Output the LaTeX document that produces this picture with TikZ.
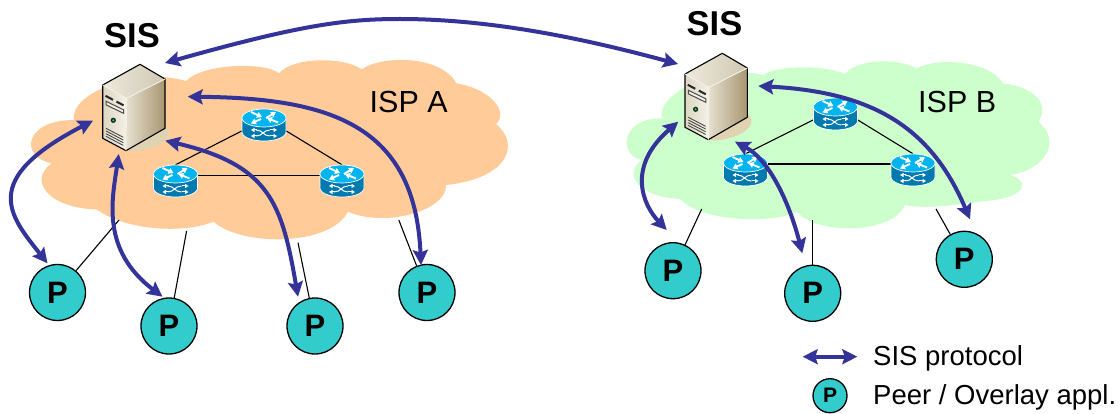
\documentclass[tikz,border=0pt]{standalone}
\usepackage{fontspec}
\setmainfont{Liberation Sans}
\usetikzlibrary{arrows.meta}
\definecolor{cloudA}{HTML}{FFCC99}
\definecolor{cloudB}{HTML}{CCFFCC}
\definecolor{peerfill}{HTML}{33CCCC}
\definecolor{sisblue}{HTML}{333399}
\definecolor{rtop}{HTML}{00B4F0}
\definecolor{rbody}{HTML}{0079AE}
\definecolor{srvshadow}{HTML}{E0D3B2}
\definecolor{srvlight}{HTML}{F4F1E8}
\definecolor{srvfront}{HTML}{DDD6C2}
\definecolor{srvmid}{HTML}{E6E0D0}
\definecolor{srvdark}{HTML}{A89670}
\definecolor{srvtopa}{HTML}{EDE9DC}
\definecolor{srvtopb}{HTML}{CFC8B2}
\tikzset{
  x=1pt,y=-1pt,
  peer/.style={circle,draw=black,line width=1.3pt,fill=peerfill,minimum size=56pt,inner sep=0pt,font=\fontsize{31}{31}\selectfont\bfseries},
  legendpeer/.style={peer,minimum size=34pt,font=\fontsize{21}{21}\selectfont\bfseries},
  rslot/.style={inner sep=0pt,minimum width=44pt,minimum height=32pt},
  rlink/.style={draw=black,line width=1.1pt},
  plink/.style={draw=black,line width=1.1pt},
  sisarrow/.style={draw=sisblue,line width=4pt,{Stealth[length=15pt,width=15pt,inset=2.5pt]}-{Stealth[length=15pt,width=15pt,inset=2.5pt]}},
  biglabel/.style={anchor=base west,inner sep=0pt,font=\fontsize{34.5}{34.5}\selectfont\bfseries},
  isplabel/.style={anchor=base west,inner sep=0pt,font=\fontsize{30.5}{31}\selectfont},
  leglabel/.style={anchor=base west,inner sep=0pt,font=\fontsize{27.5}{28}\selectfont},
  wa/.style={draw=white,line width=1.9pt,-{Triangle[length=5pt,width=6pt]}},
  wb/.style={draw=white,line width=1pt},
  wbt/.style={draw=white,line width=1pt,-{Triangle[length=3.5pt,width=4pt]}},
  router/.pic={
    \fill[rbody,draw=white,line width=0.7pt] (-22,-7) -- (-22,7) arc[start angle=180,end angle=360,x radius=22pt,y radius=9pt] -- (22,-7) -- cycle;
    \fill[rtop,draw=white,line width=0.7pt] (0,-7) circle[x radius=22pt,y radius=9pt];
    \draw[wa] (-13,-13) -- (-2,-8);
    \draw[wa] (2,-7) -- (12,-13);
    \draw[wa] (-3,-6) -- (-13,-1.5);
    \draw[wa] (14,-2.5) -- (3,-7);
    \draw[wb] (-8,5) .. controls (-1,5) and (-1,11) .. (6,11);
    \draw[wb] (-8,11) .. controls (-1,11) and (-1,5) .. (6,5);
    \draw[wbt] (6,5) -- (13,5);
    \draw[wbt] (6,11) -- (13,11);
    \draw[wbt] (-7,5) -- (-13,5);
    \draw[wbt] (-7,11) -- (-13,11);
  },
  server/.pic={
    \fill[srvshadow] (25,60) .. controls (34,68) and (28,78) .. (10,84) .. controls (0,87) and (-8,88) .. (-14,86.4) -- cycle;
    \shade[left color=srvfront,right color=srvlight] (-37.3,20.7) -- (-13.3,34) -- (-14,86.4) -- (-37.3,74) -- cycle;
    \shade[left color=srvmid,right color=srvdark] (-13.3,34) -- (25,14.7) -- (25,64) -- (-14,86.4) -- cycle;
    \shade[left color=srvtopa,right color=srvtopb] (0,0) -- (25,14.7) -- (-13.3,34) -- (-37.3,20.7) -- cycle;
    \draw[black,line width=1.1pt,line join=round] (0,0) -- (25,14.7) -- (25,64) -- (-14,86.4) -- (-37.3,74) -- (-37.3,20.7) -- cycle;
    \draw[srvlight,line width=0.9pt] (-37.3,20.7) -- (-13.3,34) -- (25,14.7);
    \draw[srvlight,line width=0.9pt] (-13.3,34) -- (-14,86.4);
    \draw[black!85,line width=2pt] (-34.5,31.5) -- (-27,35.5);
    \draw[black!85,line width=2pt] (-23.5,37.3) -- (-16.5,41);
    \draw[black!70,line width=1pt,fill=srvlight] (-34,37) -- (-16.5,45.5) -- (-16.5,49) -- (-34,40.5) -- cycle;
    \fill[black!80!green] (-26.7,56) circle[radius=2.6pt];
    \fill[cyan!60!gray] (-26.7,56) circle[radius=1.2pt];
    \foreach \i in {0,1,2,3} \draw[black!75,line width=0.8pt] (-34,64+2.7*\i) -- (-16.7,73+2.7*\i);
  }
}
\begin{document}
\begin{tikzpicture}
\useasboundingbox (0,0) rectangle (1119,414);
% clouds
\begin{scope}[x=0.3444pt,y=-0.3333pt]
\fill[cloudA] (150,490)
 .. controls (55,470) and (70,360) .. (215,360)
 .. controls (200,280) and (400,200) .. (540,243)
 .. controls (590,190) and (770,185) .. (810,220)
 .. controls (850,170) and (1000,170) .. (1050,208)
 .. controls (1110,165) and (1280,165) .. (1325,250)
 .. controls (1420,265) and (1480,335) .. (1440,372)
 .. controls (1510,430) and (1480,535) .. (1295,555)
 .. controls (1300,630) and (1120,685) .. (1010,635)
 .. controls (960,740) and (700,740) .. (620,665)
 .. controls (540,700) and (370,695) .. (280,628)
 .. controls (140,625) and (80,540) .. (150,490) -- cycle;
\end{scope}
\begin{scope}[shift={(600,0)},x=0.3333pt,y=-0.3333pt]
\fill[cloudB] (125,480)
 .. controls (55,465) and (60,355) .. (185,355)
 .. controls (170,280) and (350,190) .. (490,225)
 .. controls (530,195) and (680,195) .. (735,222)
 .. controls (770,175) and (900,175) .. (950,205)
 .. controls (1000,175) and (1160,175) .. (1210,250)
 .. controls (1320,265) and (1345,320) .. (1315,365)
 .. controls (1385,420) and (1340,510) .. (1230,525)
 .. controls (1285,540) and (1290,590) .. (1160,603)
 .. controls (1100,610) and (980,630) .. (915,615)
 .. controls (880,700) and (660,710) .. (590,635)
 .. controls (530,670) and (310,670) .. (240,597)
 .. controls (110,590) and (70,520) .. (125,480) -- cycle;
\end{scope}
% labels
\node[biglabel] (sisa) at (104,48) {SIS};
\node[biglabel] (sisb) at (686.5,36) {SIS};
\node[isplabel] (ispa) at (369.5,112.7) {ISP A};
\node[isplabel] (ispb) at (918,112.7) {ISP B};
% router slots
\node[rslot] (ra) at (264,125) {};
\node[rslot] (rb) at (175.5,181) {};
\node[rslot] (rc) at (342,181) {};
\node[rslot] (rd) at (835.5,114) {};
\node[rslot] (re) at (745.5,170) {};
\node[rslot] (rf) at (913,170) {};
% router links
\draw[rlink] (ra.195) -- (rb.north);
\draw[rlink] (ra.-15) -- (rc.north);
\draw[rlink] (rb.15) -- (rc.165);
\draw[rlink] (rd.195) -- (re.north);
\draw[rlink] (rd.-15) -- (rf.north);
\draw[rlink] (re.15) -- (rf.165);
% routers
\pic at (ra) {router};
\pic at (rb) {router};
\pic at (rc) {router};
\pic at (rd) {router};
\pic at (re) {router};
\pic at (rf) {router};
% servers
\pic at (140,64.3) {server};
\pic at (722.3,53.3) {server};
% peers
\node[peer] (p1) at (57.5,292.5) {P};
\node[peer] (p2) at (169,326) {P};
\node[peer] (p3) at (315,326) {P};
\node[peer] (p4) at (427,292.5) {P};
\node[peer] (p5) at (673,270.7) {P};
\node[peer] (p6) at (812.7,293.3) {P};
\node[peer] (p7) at (964.3,259.3) {P};
% peer access lines
\coordinate (l1) at (119,220);
\coordinate (l2) at (186.6,231);
\coordinate (l3) at (298,242.7);
\coordinate (l4) at (398.8,220);
\coordinate (l5) at (701.7,209);
\coordinate (l6) at (812.7,220);
\coordinate (l7) at (936,209);
\draw[plink] (p1) -- (l1);
\draw[plink] (p2) -- (l2);
\draw[plink] (p3) -- (l3);
\draw[plink] (p4) -- (l4);
\draw[plink] (p5) -- (l5);
\draw[plink] (p6) -- (l6);
\draw[plink] (p7) -- (l7);
% SIS arrows
\coordinate (sA) at (165,63);
\coordinate (sAtop) at (400,19);
\coordinate (sB) at (678,64);
\draw[sisarrow] (sA) .. controls (300,25) and (345,19) .. (sAtop) .. controls (500,19) and (600,43) .. (sB);
\coordinate (a4s) at (187.7,96.7);
\coordinate (a4e) at (421,265);
\draw[sisarrow] (a4s) .. controls (330,98) and (415,125) .. (a4e);
\coordinate (a1s) at (93,120.7);
\coordinate (a1e) at (47.5,263.3);
\draw[sisarrow] (a1s) .. controls (-22,180) and (10,216) .. (a1e);
\coordinate (a2s) at (118.8,154);
\coordinate (a2e) at (162.5,296.7);
\draw[sisarrow] (a2s) .. controls (112,200) and (101,250) .. (a2e);
\coordinate (a3s) at (165.3,140.7);
\coordinate (a3e) at (298,296.7);
\draw[sisarrow] (a3s) .. controls (270,165) and (282,204) .. (a3e);
\coordinate (b3s) at (758.3,86);
\coordinate (b3e) at (970,219.3);
\draw[sisarrow] (b3s) .. controls (870,92) and (930,125) .. (b3e);
\coordinate (b1s) at (678.3,121.7);
\coordinate (b1e) at (666.7,230);
\draw[sisarrow] (b1s) .. controls (626,167) and (643,205) .. (b1e);
\coordinate (b2s) at (735,141.7);
\coordinate (b2e) at (802.3,253.3);
\draw[sisarrow] (b2s) .. controls (770,160) and (790,205) .. (b2e);
% legend
\coordinate (lgs) at (802.7,356.7);
\coordinate (lge) at (857.3,356.7);
\draw[sisarrow] (lgs) -- (lge);
\node[leglabel] (lg1) at (873,365.7) {SIS protocol};
\node[legendpeer] (lgp) at (830,395.7) {P};
\node[leglabel] (lg2) at (873,404) {Peer / Overlay appl.};
\end{tikzpicture}
\end{document}
